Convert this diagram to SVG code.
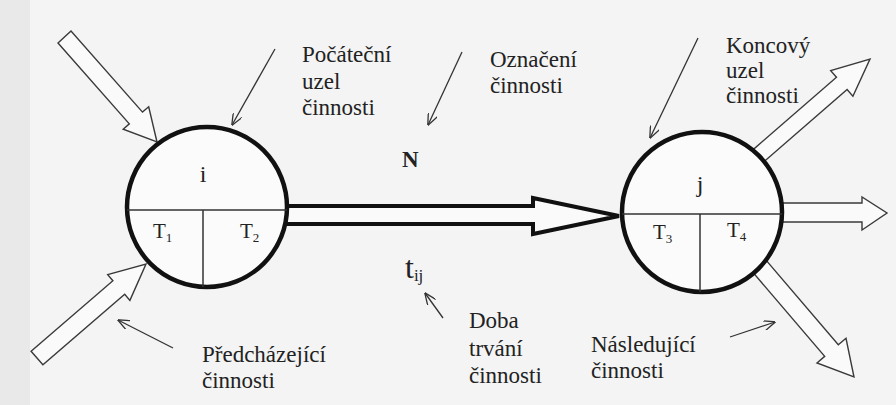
<svg xmlns="http://www.w3.org/2000/svg" width="896" height="405" viewBox="0 0 896 405">
  <defs>
    <marker id="vhead" viewBox="0 0 12 10" refX="11.5" refY="5" markerWidth="12" markerHeight="10" markerUnits="userSpaceOnUse" orient="auto">
      <path d="M0,0 L12,5 L0,10" fill="none" stroke="#333" stroke-width="1.3"/>
    </marker>
  </defs>
  <style>
    .bg { fill: #f4f4f4; }
    .hollow { fill: #fafafa; stroke: #3a3a3a; stroke-width: 1.4; stroke-linejoin: miter; }
    .main { fill: #fafafa; stroke: #111; stroke-width: 4; stroke-linejoin: miter; }
    .node { fill: #fbfbfb; stroke: #111; stroke-width: 4.5; }
    .div { stroke: #333; stroke-width: 1.5; fill: none; }
    .ptr { stroke: #333; stroke-width: 1.3; fill: none; marker-end: url(#vhead); }
    text, tspan { font-family: 'Liberation Serif', 'DejaVu Serif', serif; }
    text { fill: #222; }
    .lbl { font-size: 23px; }
    .nm { font-size: 24px; }
    .T { font-size: 21px; }
    .sub { font-size: 13px; }
  </style>
  <rect class="bg" x="0" y="0" width="896" height="405"/>
  <rect x="0" y="0" width="30" height="405" fill="#e9e9e9"/>

  <g id="connectors">
    <polygon id="in-top" class="hollow" points="58,43 71,31 142.5,112.1 148.7,106.8 157,142 123.2,129.2 129.3,123.9"/>
    <polygon id="in-bottom" class="hollow" points="31.1,351.2 112.9,280.7 107.7,274.6 146,264 129.9,300.4 124.7,294.3 42.9,364.8"/>
    <polygon id="out-top" class="hollow" points="749.7,152.6 836.5,77.3 830.7,70.6 870,59 852.9,96.2 847.1,89.5 760.3,164.8"/>
    <polygon id="out-mid" class="hollow" points="775,203 862,203 862,197 887,213 862,230 862,222 775,222"/>
    <polygon id="out-bottom" class="hollow" points="763,256.6 838.3,344.8 846,338.3 854,377 817,362.9 824.7,356.4 749.4,268.2"/>
    <polygon id="activity" class="main" points="280,206 533,206 533,198 619,216 533,234 533,224 280,224"/>

    <line class="ptr" x1="275" y1="49" x2="232" y2="125"/>
    <line class="ptr" x1="462" y1="52" x2="428" y2="125"/>
    <line class="ptr" x1="698" y1="38" x2="650" y2="138"/>
    <line class="ptr" x1="443" y1="318" x2="425" y2="293"/>
    <line class="ptr" x1="173" y1="348" x2="118" y2="320"/>
    <line class="ptr" x1="730" y1="337" x2="775" y2="322"/>
  </g>

  <g id="node-i">
    <circle class="node" cx="207" cy="207" r="80"/>
    <line class="div" x1="127" y1="210" x2="287" y2="210"/>
    <line class="div" x1="203" y1="210" x2="203" y2="287"/>
    <text class="nm" x="203" y="182" text-anchor="middle">i</text>
    <text class="T" x="153" y="238">T<tspan class="sub" dy="4">1</tspan></text>
    <text class="T" x="240" y="238">T<tspan class="sub" dy="4">2</tspan></text>
  </g>

  <g id="node-j">
    <circle class="node" cx="702" cy="212" r="80"/>
    <line class="div" x1="622" y1="214" x2="782" y2="214"/>
    <line class="div" x1="700" y1="214" x2="700" y2="292"/>
    <text class="nm" x="700" y="192" text-anchor="middle">j</text>
    <text class="T" x="653" y="239">T<tspan class="sub" dy="4">3</tspan></text>
    <text class="T" x="727" y="237">T<tspan class="sub" dy="4">4</tspan></text>
  </g>

  <g id="labels">
    <text class="lbl" x="302" y="62">Počáteční</text>
    <text class="lbl" x="302" y="89">uzel</text>
    <text class="lbl" x="302" y="115">činnosti</text>

    <text class="lbl" x="490" y="67">Označení</text>
    <text class="lbl" x="490" y="93">činnosti</text>

    <text class="lbl" x="726" y="53">Koncový</text>
    <text class="lbl" x="726" y="78">uzel</text>
    <text class="lbl" x="726" y="103">činnosti</text>

    <text x="402" y="167" font-size="23" font-weight="bold">N</text>
    <text x="405" y="278" font-size="32">t<tspan font-size="17" dy="3">ij</tspan></text>

    <text class="lbl" x="469" y="328">Doba</text>
    <text class="lbl" x="469" y="356">trvání</text>
    <text class="lbl" x="469" y="383">činnosti</text>

    <text class="lbl" x="591" y="352">Následující</text>
    <text class="lbl" x="591" y="378">činnosti</text>

    <text class="lbl" x="202" y="362">Předcházející</text>
    <text class="lbl" x="202" y="388">činnosti</text>
  </g>
</svg>
